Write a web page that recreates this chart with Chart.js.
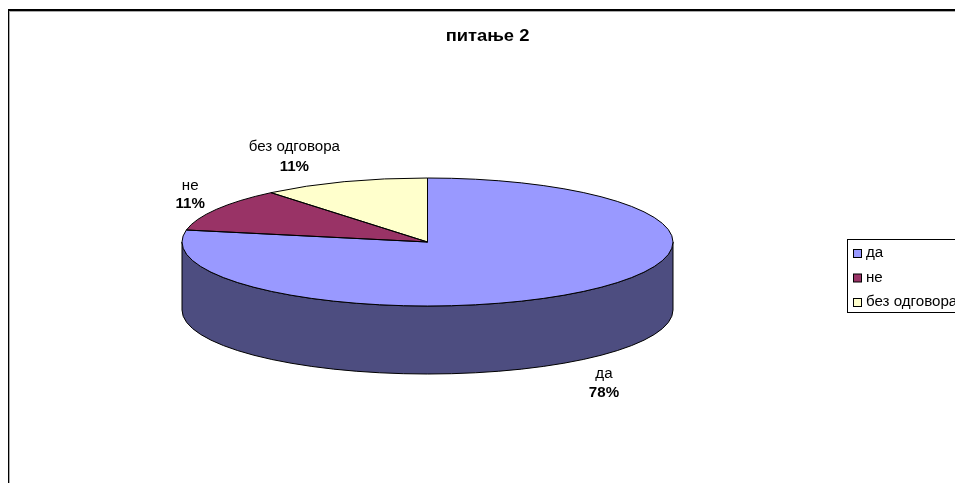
<!DOCTYPE html>
<html>
<head>
<meta charset="utf-8">
<title>питање 2</title>
<script src="https://cdn.jsdelivr.net/npm/chart.js@4/dist/chart.umd.min.js"></script>
<style>
html,body{margin:0;padding:0;background:#fff;overflow:hidden}
canvas{display:block}
</style>
</head>
<body>
<canvas id="pie" width="955" height="483"></canvas>
<script>
const categories = ["да", "не", "без одговора"];
const values = [78, 11, 11];
const percentLabels = ["78%", "11%", "11%"];
const colors = ["#9999ff", "#993366", "#ffffcc"];
const sideColors = ["#4d4d80", "#4d1a33", "#808066"];

// 3d look: flatten the pie and hang a wall under it
const squash = 64 / 245.5;
const depth = 68;
const labelOffsets = [[20, 83], [-26, -23], [-50, -35]];
const labelGaps = [19, 18, 20];
const font = '"Liberation Sans", Arial, sans-serif';
// the source picture is stretched sideways a bit
const stretch = 1.08;

function wideText(ctx, text, x, y) {
  ctx.save();
  ctx.translate(x, y);
  ctx.scale(stretch, 1);
  ctx.fillText(text, 0, 0);
  ctx.restore();
}

const pie3d = {
  id: "pie3d",
  afterLayout(chart) {
    chart.titleBlock.left += 60;
    chart.titleBlock.right += 60;
  },
  beforeDraw(chart) {
    // title layer is drawn right after this hook
    const ctx = chart.ctx;
    ctx.save();
    ctx.translate(487.5, 0);
    ctx.scale(stretch, 1);
    ctx.translate(-487.5, 0);
  },
  beforeDatasetsDraw(chart) {
    const ctx = chart.ctx;
    ctx.restore();
    const arcs = chart.getDatasetMeta(0).data;
    ctx.save();
    ctx.strokeStyle = "#000";
    ctx.lineWidth = 1;
    arcs.forEach((arc, i) => {
      const a0 = Math.max(arc.startAngle, 0);
      const a1 = Math.min(arc.endAngle, Math.PI);
      if (a1 <= a0) return;
      const rx = arc.outerRadius, ry = rx * squash;
      ctx.beginPath();
      ctx.ellipse(arc.x, arc.y, rx, ry, 0, a0, a1);
      ctx.ellipse(arc.x, arc.y + depth, rx, ry, 0, a1, a0, true);
      ctx.closePath();
      ctx.fillStyle = sideColors[i];
      ctx.fill();
      ctx.stroke();
    });
    ctx.restore();

    const first = arcs[0];
    ctx.save();
    ctx.translate(first.x, first.y);
    ctx.scale(1, squash);
    ctx.translate(-first.x, -first.y);
  },
  afterDatasetsDraw(chart) {
    const ctx = chart.ctx;
    ctx.restore();
    const arcs = chart.getDatasetMeta(0).data;
    ctx.save();
    ctx.strokeStyle = "#000";
    ctx.lineWidth = 1;
    arcs.forEach(arc => {
      const rx = arc.outerRadius, ry = rx * squash;
      ctx.beginPath();
      ctx.moveTo(arc.x, arc.y);
      ctx.ellipse(arc.x, arc.y, rx, ry, 0, arc.startAngle, arc.endAngle);
      ctx.closePath();
      ctx.stroke();
    });

    // labels next to the slices
    ctx.textAlign = "center";
    ctx.textBaseline = "middle";
    ctx.fillStyle = "#000";
    arcs.forEach((arc, i) => {
      const mid = (arc.startAngle + arc.endAngle) / 2;
      const x = arc.x + arc.outerRadius * Math.cos(mid) + labelOffsets[i][0];
      const y = arc.y + arc.outerRadius * squash * Math.sin(mid) + labelOffsets[i][1];
      ctx.font = "14px " + font;
      wideText(ctx, categories[i], x, y);
      ctx.font = "bold 14px " + font;
      wideText(ctx, percentLabels[i], x, y + labelGaps[i]);
    });
    ctx.restore();
  },
  afterDraw(chart) {
    const ctx = chart.ctx;
    ctx.save();
    // frame runs off the right and bottom of the window
    ctx.fillStyle = "#000";
    ctx.fillRect(8, 9, 947, 2);
    ctx.fillRect(8, 9, 1, 474);
    ctx.fillStyle = "#aaa";
    ctx.fillRect(9, 11, 946, 1);
    ctx.fillRect(9, 11, 1, 472);

    // legend box
    ctx.strokeStyle = "#000";
    ctx.lineWidth = 1;
    ctx.strokeRect(847.5, 239.5, 120, 73);
    ctx.font = "14px " + font;
    ctx.textAlign = "left";
    ctx.textBaseline = "middle";
    categories.forEach((name, i) => {
      const y = 249.5 + i * 24.5;
      ctx.fillStyle = colors[i];
      ctx.fillRect(853.5, y, 8, 8);
      ctx.strokeRect(853.5, y, 8, 8);
      ctx.fillStyle = "#000";
      wideText(ctx, name, 866, y + 4);
    });
    ctx.restore();
  }
};

new Chart(document.getElementById("pie"), {
  type: "pie",
  data: {
    labels: categories,
    datasets: [{
      data: values,
      backgroundColor: colors,
      borderWidth: 0
    }]
  },
  options: {
    responsive: false,
    animation: false,
    radius: 245.5,
    layout: { padding: { right: 100, bottom: 45.4 } },
    plugins: {
      legend: { display: false },
      tooltip: { enabled: false },
      title: {
        display: true,
        text: "питање 2",
        color: "#000",
        font: { family: font, size: 17, weight: "bold" },
        padding: { top: 26, bottom: 0 }
      }
    }
  },
  plugins: [pie3d]
});
</script>
</body>
</html>
